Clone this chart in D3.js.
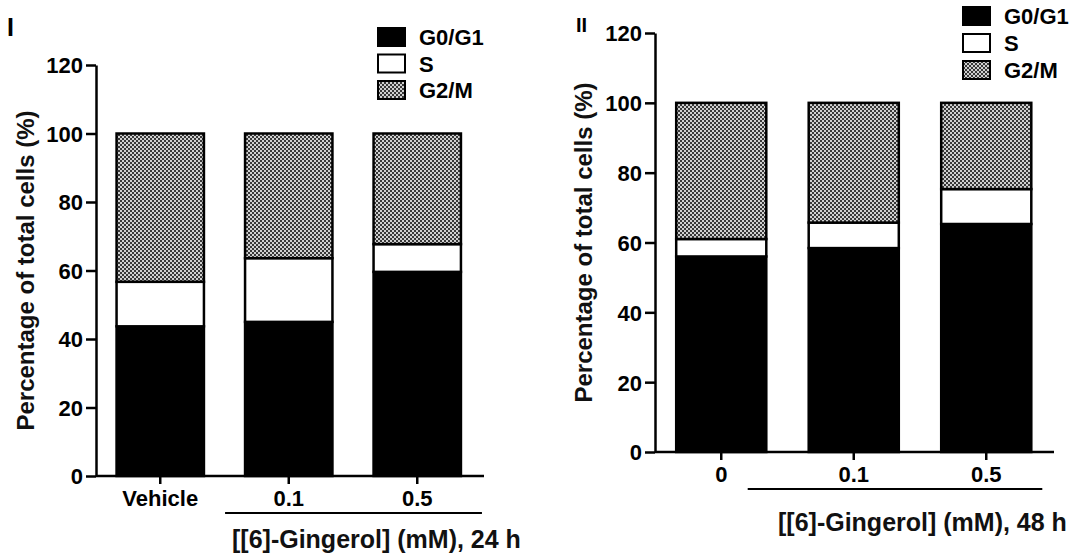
<!DOCTYPE html>
<html>
<head>
<meta charset="utf-8">
<script src="https://cdn.jsdelivr.net/npm/d3@7"></script>
<style>
  html, body { margin: 0; padding: 0; background: #fff; }
  svg { display: block; font-family: Arial, "Liberation Sans", sans-serif; }
</style>
</head>
<body>
<svg id="chart" width="1089" height="560"></svg>
<script>
// ---------- data ----------
const phases = ["G0/G1", "S", "G2/M"];
const yTicks = [0, 20, 40, 60, 80, 100, 120];

const categories24 = ["Vehicle", "0.1", "0.5"];
const g0g1_24 = [43.7, 45.0, 59.6];
const s_24    = [13.0, 18.6, 8.1];
const g2m_24  = [43.3, 36.4, 32.3];

const categories48 = ["0", "0.1", "0.5"];
const g0g1_48 = [56.0, 58.4, 65.3];
const s_48    = [5.0, 7.3, 10.0];
const g2m_48  = [39.0, 34.3, 24.7];

const panelLabels = ["I", "II"];
const yTitle = "Percentage of total cells (%)";
const xTitles = ["[[6]-Gingerol] (mM), 24 h", "[[6]-Gingerol] (mM), 48 h"];

// ---------- drawing ----------
const svg = d3.select("#chart");
const defs = svg.append("defs");
const pat = defs.append("pattern")
  .attr("id", "checker").attr("patternUnits", "userSpaceOnUse")
  .attr("width", 4).attr("height", 4);
pat.append("rect").attr("width", 4).attr("height", 4).attr("fill", "#d0d0d0");
pat.append("rect").attr("x", 0).attr("y", 0).attr("width", 2).attr("height", 2).attr("fill", "#383838");
pat.append("rect").attr("x", 2).attr("y", 2).attr("width", 2).attr("height", 2).attr("fill", "#383838");

const fills = { "G0/G1": "#000", "S": "#fff", "G2/M": "url(#checker)" };

function drawPanel(cfg) {
  const rows = cfg.categories.map((c, i) => ({
    cat: c, "G0/G1": cfg.g0[i], "S": cfg.s[i], "G2/M": cfg.g2[i]
  }));
  const x = d3.scaleBand().domain(cfg.categories).range(cfg.xRange)
    .paddingInner(0.32).paddingOuter(0.16);
  const y = d3.scaleLinear().domain([0, 120]).range(cfg.yRange);
  const stack = d3.stack().keys(phases)(rows);

  const g = svg.append("g");

  // bars
  stack.forEach(layer => {
    g.selectAll(null).data(layer).enter().append("rect")
      .attr("x", d => x(d.data.cat))
      .attr("width", x.bandwidth())
      .attr("y", d => y(d[1]))
      .attr("height", d => y(d[0]) - y(d[1]))
      .attr("fill", fills[layer.key])
      .attr("stroke", "#000")
      .attr("stroke-width", 2.5);
  });

  // y axis
  const ya = g.append("g").attr("transform", `translate(${cfg.xRange[0]},0)`)
    .call(d3.axisLeft(y).tickValues(yTicks).tickSize(10).tickPadding(3).tickSizeOuter(0));
  ya.select(".domain").attr("stroke-width", 2.5);
  ya.selectAll(".tick line").attr("stroke-width", 2.5);
  ya.selectAll(".tick text").attr("font-size", 22).attr("font-weight", "bold")
    .attr("font-family", "Arial, 'Liberation Sans', sans-serif").attr("fill", "#000")
    .attr("dy", "0.36em");

  // x axis
  const xa = g.append("g").attr("transform", `translate(0,${cfg.yRange[0]})`)
    .call(d3.axisBottom(x).tickSize(8).tickPadding(6).tickSizeOuter(0));
  xa.select(".domain").attr("stroke-width", 2.5)
    .attr("d", `M${cfg.xRange[0]},0H${cfg.xAxisEnd}`);
  xa.selectAll(".tick line").attr("stroke-width", 2.5);
  xa.selectAll(".tick text").attr("font-size", 22).attr("font-weight", "bold")
    .attr("font-family", "Arial, 'Liberation Sans', sans-serif").attr("fill", "#000");

  // underline for treated groups
  const c1 = x(cfg.categories[1]);
  const c2 = x(cfg.categories[2]) + x.bandwidth();
  g.append("line")
    .attr("x1", c1 - cfg.ulPadL).attr("x2", c2 + cfg.ulPadR)
    .attr("y1", cfg.ulY).attr("y2", cfg.ulY)
    .attr("stroke", "#000").attr("stroke-width", 2.2);

  // x title
  g.append("text").attr("x", cfg.xTitleX).attr("y", cfg.xTitleY)
    .attr("font-size", 25).attr("font-weight", "bold").attr("fill", "#111")
    .text(cfg.xTitle);

  // y title
  const ymid = (cfg.yRange[0] + cfg.yRange[1]) / 2;
  g.append("text")
    .attr("transform", `translate(${cfg.yTitleX},${ymid}) rotate(-90)`)
    .attr("text-anchor", "middle")
    .attr("font-size", 24).attr("font-weight", "bold").attr("fill", "#111")
    .text(yTitle);

  // panel label
  g.append("text").attr("x", cfg.labelX).attr("y", cfg.labelY)
    .attr("font-size", cfg.labelSize).attr("font-weight", "bold")
    .attr("fill", "#000").text(cfg.label);

  // legend
  const lg = g.append("g").attr("transform", `translate(${cfg.legX},${cfg.legY})`);
  phases.forEach((p, i) => {
    lg.append("rect").attr("x", 0).attr("y", i * cfg.legStep)
      .attr("width", 27).attr("height", 18)
      .attr("fill", fills[p]).attr("stroke", "#000").attr("stroke-width", 2);
    lg.append("text").attr("x", 41).attr("y", i * cfg.legStep + 17)
      .attr("font-size", 22).attr("font-weight", "bold").attr("fill", "#000")
      .text(p);
  });
}

drawPanel({
  categories: categories24, g0: g0g1_24, s: s_24, g2: g2m_24,
  xRange: [96, 481.5], xAxisEnd: 484, yRange: [476, 65],
  ulY: 513, ulPadL: 20, ulPadR: 21,
  xTitle: xTitles[0], xTitleX: 232, xTitleY: 548,
  yTitleX: 34,
  label: panelLabels[0], labelX: 7, labelY: 36, labelSize: 25,
  legX: 378, legY: 28, legStep: 26.5
});

drawPanel({
  categories: categories48, g0: g0g1_48, s: s_48, g2: g2m_48,
  xRange: [655, 1052.5], xAxisEnd: 1054, yRange: [452, 33],
  ulY: 489, ulPadL: 61, ulPadR: 11,
  xTitle: xTitles[1], xTitleX: 778, xTitleY: 531,
  yTitleX: 592,
  label: panelLabels[1], labelX: 576, labelY: 32, labelSize: 20,
  legX: 963, legY: 7, legStep: 27
});
</script>
</body>
</html>
